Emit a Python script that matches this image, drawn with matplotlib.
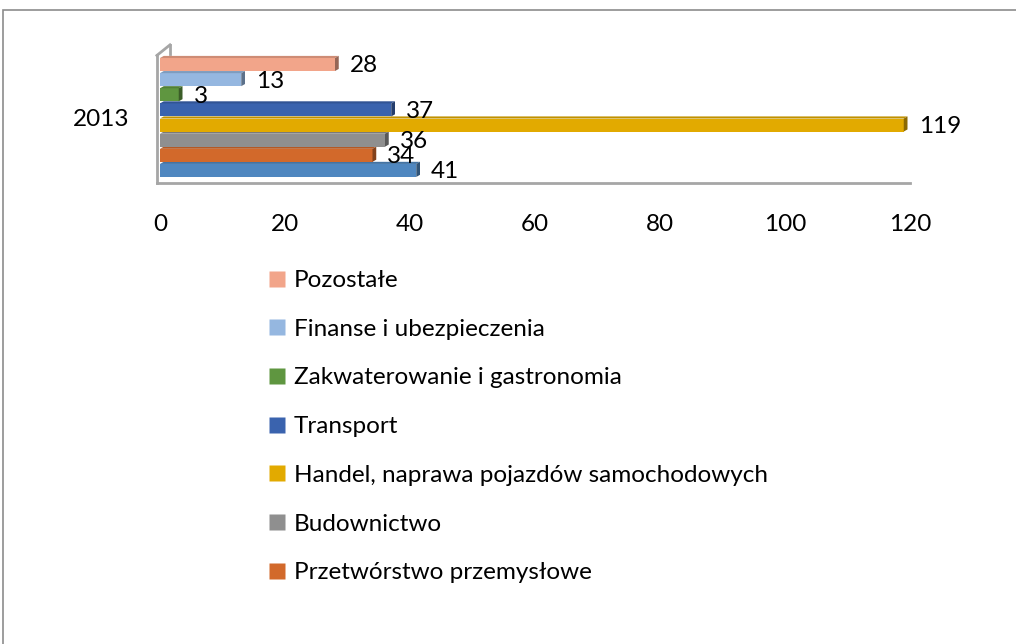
import numpy as np
import matplotlib
matplotlib.use("Agg")
import matplotlib.pyplot as plt
from matplotlib.patches import Polygon, Rectangle
from matplotlib.lines import Line2D
from matplotlib.colors import to_rgb

plt.rcParams["font.family"] = ["Lato", "DejaVu Sans"]

# dane (od dołu do góry)
year = "2013"
sectors = ["", "Przetwórstwo przemysłowe", "Budownictwo",
           "Handel, naprawa pojazdów samochodowych", "Transport",
           "Zakwaterowanie i gastronomia", "Finanse i ubezpieczenia", "Pozostałe"]
values = [41, 34, 36, 119, 37, 3, 13, 28]
colors = ["#4F87C0", "#D2692B", "#8F8F8F", "#E2AA00", "#3A63AE",
          "#5F9640", "#95B7E0", "#F2A58A"]
xticks = [0, 20, 40, 60, 80, 100, 120]

FS = 17.5
W, H = 1016, 644
fig = plt.figure(figsize=(W / 100, H / 100), dpi=100)

# ramka wykresu
fig.add_artist(Rectangle((3 / W, -0.1), 1.2, 1 - 10 / H + 0.1, transform=fig.transFigure,
                         fill=False, edgecolor="#8C8C8C", linewidth=1.2))

ax = fig.add_axes([160 / W, 1 - 183 / H, 750 / W, 133 / H])
ax.set_xlim(0, 120)
ax.set_ylim(-0.83, 7.96)
for s in ax.spines.values():
    s.set_visible(False)
ax.set_yticks([3.5])
ax.set_yticklabels([year], fontsize=FS)
ax.set_xticks(xticks)
ax.set_xticklabels([str(t) for t in xticks], fontsize=FS)
ax.tick_params(length=0)
ax.tick_params(axis="x", pad=22)
ax.tick_params(axis="y", pad=22)

# ściany 3D
ax.plot([-0.5, 120], [-0.83, -0.83], color="#A6A6A6", lw=2, clip_on=False)
ax.plot([-0.5, -0.5], [-0.83, 7.6], color="#A6A6A6", lw=2, clip_on=False)
ax.plot([-0.5, 1.6], [7.6, 8.3], color="#A6A6A6", lw=2, clip_on=False)
ax.plot([1.6, 1.6], [8.3, 7.7], color="#A6A6A6", lw=2, clip_on=False)

bh = 0.86
dx, dy = 0.6, 0.14
ypos = np.arange(len(values))
for y, v, c in zip(ypos, values, colors):
    rgb = np.array(to_rgb(c))
    ax.barh(y, v, height=bh, color=c, zorder=3)
    y0, y1 = y - bh / 2, y + bh / 2
    top = Polygon([(0, y1), (v, y1), (v + dx, y1 + dy), (dx, y1 + dy)],
                  closed=True, facecolor=rgb * 0.85, edgecolor="none", zorder=3)
    side = Polygon([(v, y0), (v + dx, y0 + dy), (v + dx, y1 + dy), (v, y1)],
                   closed=True, facecolor=rgb * 0.62, edgecolor="none", zorder=3)
    ax.add_patch(top)
    ax.add_patch(side)
    ax.annotate(str(v), (v + dx, y), xytext=(8, -1), textcoords="offset points",
                va="center", ha="left", fontsize=FS, zorder=5)

# legenda (bez pierwszej serii, która się nie mieści)
handles = [Line2D([], [], marker="s", linestyle="none", markersize=12,
                  markerfacecolor=c, markeredgecolor="none")
           for c in colors[::-1][:7]]
labels = sectors[::-1][:7]
fig.legend(handles, labels, loc="upper left", bbox_to_anchor=(268 / W, 1 - 270 / H),
           frameon=False, fontsize=FS, labelspacing=1.14, handlelength=0.7,
           handletextpad=0.35, borderpad=0, borderaxespad=0)

fig.savefig("out.png", dpi=100)
